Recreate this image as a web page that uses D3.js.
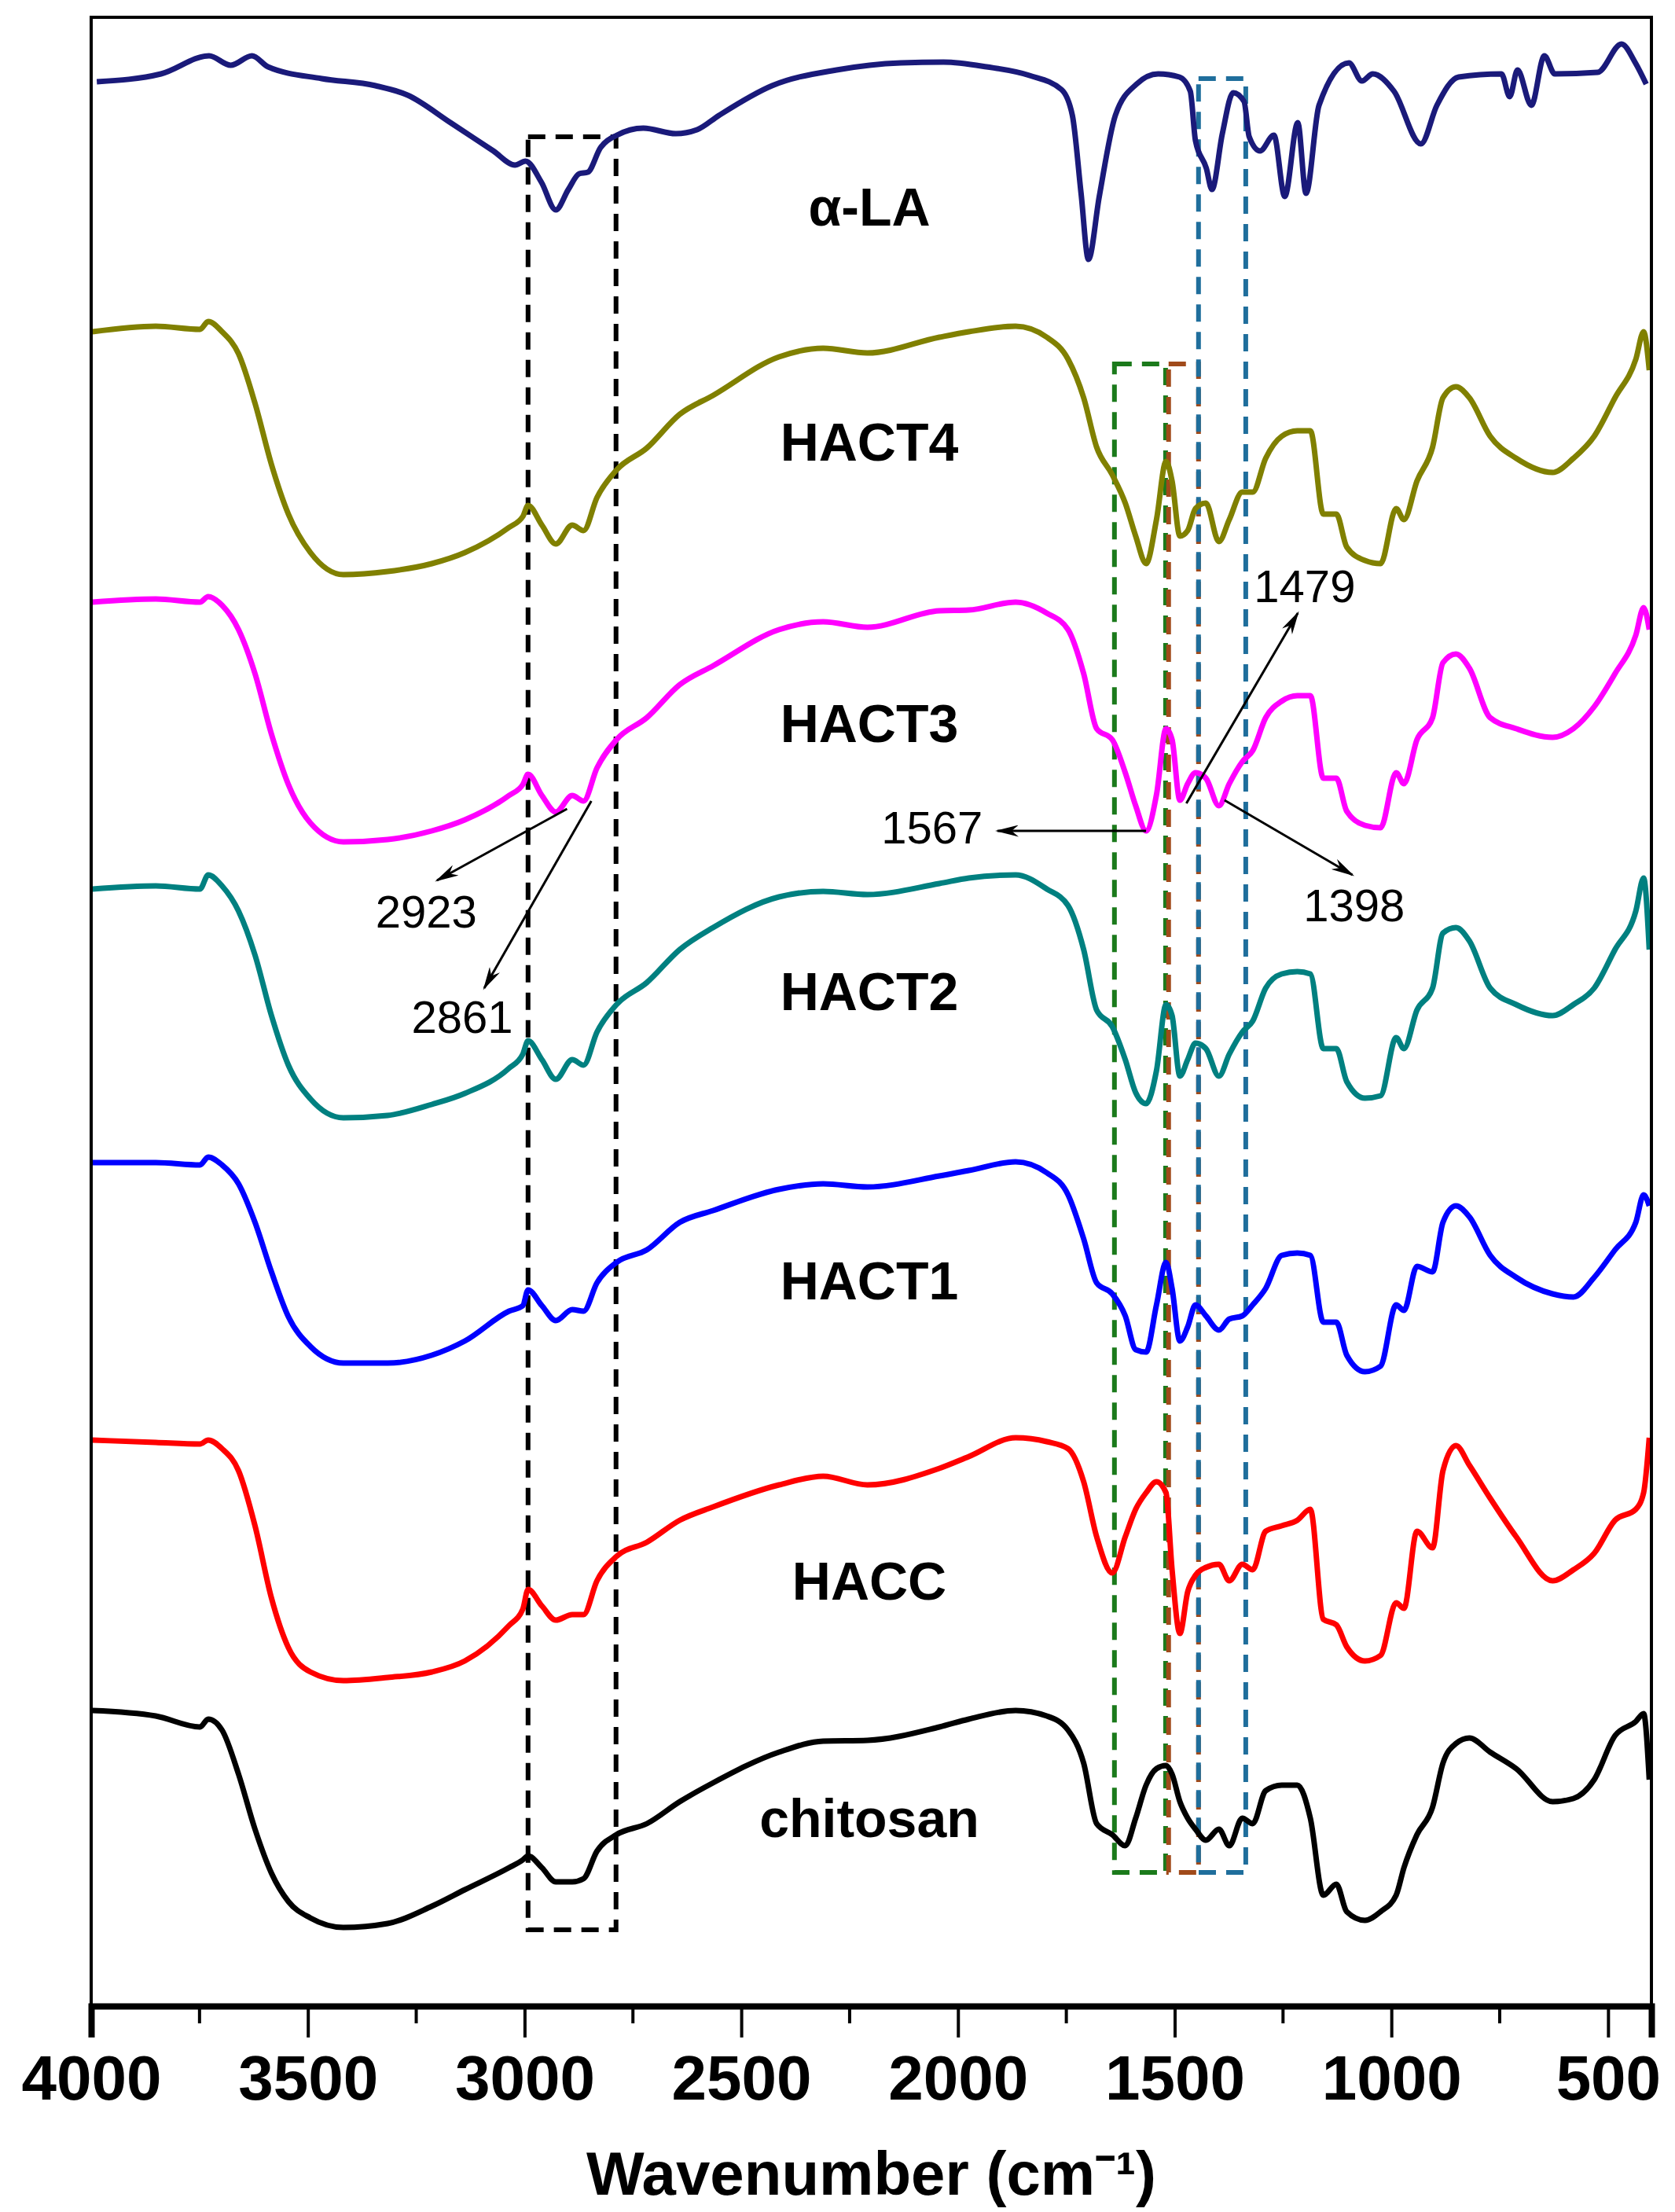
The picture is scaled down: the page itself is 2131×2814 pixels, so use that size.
<!DOCTYPE html>
<html><head><meta charset="utf-8">
<script src="https://cdn.jsdelivr.net/npm/d3@7"></script>
<style>body{margin:0;background:#fff}</style></head>
<body><svg id="c" width="2131" height="2814"></svg>
<script>
const xTicks = [4000,3500,3000,2500,2000,1500,1000,500];
const seriesNames = ["α-LA","HACT4","HACT3","HACT2","HACT1","HACC","chitosan"];
const seriesColors = ["#1a1a7a","#808000","#ff00ff","#008080","#0000ff","#ff0000","#000000"];

const wLA = [3987,3839,3728,3678,3629,3592,3468,3344,3270,3171,3072,3022,2998,2961,2928,2899,2874,2854,2825,2787,2726,2651,2602,2552,2429,2280,2132,2033,1934,1835,1761,1736,1716,1699,1674,1637,1588,1538,1489,1464,1452,1427,1414,1390,1365,1340,1328,1303,1271,1246,1216,1197,1167,1098,1068,1043,994,932,895,845,746,727,709,677,647,623,524,469,437,412];
const vLA = [2448,2458,2481,2469,2481,2467,2452,2443,2431,2396,2360,2342,2347,2320,2285,2311,2331,2333,2364,2380,2389,2382,2387,2405,2443,2463,2472,2473,2467,2456,2438,2405,2306,2222,2302,2405,2445,2458,2454,2436,2373,2338,2311,2382,2434,2423,2378,2360,2380,2302,2396,2306,2418,2472,2449,2458,2436,2369,2418,2454,2458,2429,2463,2418,2481,2458,2460,2496,2472,2445];

const wHigh = [3997,3851,3749,3730,3698,3660,3622,3584,3545,3494,3418,3316,3214,3138,3036,3004,2992,2960,2928,2890,2864,2833,2788,2718,2642,2565,2413,2311,2209,2043];
const wLow = [1975,1867,1795,1746,1710,1680,1644,1614,1590,1566,1542,1520,1506,1488,1470,1452,1428,1398,1374,1344,1320,1290,1253,1217,1187,1157,1127,1103,1061,1025,989,971,941,905,881,851,820,772,712,628,580,532,484,436,418,405];

const vHACT4 = [2130,2137,2133,2143,2130,2102,2039,1961,1898,1849,1821,1825,1835,1849,1881,1895,1909,1884,1860,1884,1877,1919,1954,1982,2025,2049,2098,2109,2103,2123,
 2130,2137,2123,2095,2046,1983,1948,1912,1870,1835,1891,1965,1940,1870,1877,1905,1912,1863,1891,1926,1926,1969,1997,2004,2004,1898,1898,1856,1839,1835,1905,1891,1940,1983,2046,2060,2046,1997,1969,1951,1969,1997,2046,2095,2130,2081];
const vHACT3 = [1786,1790,1786,1793,1782,1751,1695,1618,1554,1505,1481,1484,1495,1509,1540,1554,1567,1540,1519,1540,1533,1575,1611,1639,1681,1705,1751,1761,1754,1775,
 1776,1786,1772,1751,1695,1625,1611,1569,1527,1495,1541,1625,1611,1534,1555,1569,1562,1527,1555,1583,1597,1639,1660,1667,1667,1562,1562,1520,1502,1499,1569,1555,1611,1639,1709,1720,1702,1639,1625,1614,1625,1653,1695,1744,1779,1751];
const vHACT2 = [1421,1425,1421,1439,1425,1393,1337,1260,1197,1154,1130,1133,1147,1161,1193,1211,1228,1204,1179,1204,1197,1239,1274,1302,1344,1372,1411,1418,1414,1428,
 1435,1439,1421,1400,1344,1267,1246,1204,1162,1148,1190,1274,1260,1183,1204,1225,1218,1183,1211,1239,1253,1295,1313,1316,1313,1218,1218,1176,1155,1158,1232,1218,1267,1295,1365,1372,1355,1295,1274,1260,1274,1295,1344,1393,1435,1344];
const vHACT1 = [1073,1073,1070,1080,1070,1046,997,934,877,839,818,818,828,846,884,891,911,891,872,886,884,920,946,962,997,1012,1039,1046,1042,1056,
 1063,1074,1060,1032,976,920,906,878,835,832,892,946,913,846,864,892,878,860,874,878,892,913,955,958,955,870,870,828,807,814,892,885,941,934,997,1018,1004,955,927,906,902,927,962,997,1032,1018];
const vHACC = [720,717,715,720,709,681,611,519,456,425,414,418,425,439,484,505,530,509,491,498,498,541,572,590,618,635,663,674,663,684,
 699,723,718,709,667,597,551,597,632,653,667,653,555,474,527,548,558,562,541,562,555,604,611,618,632,492,485,457,439,446,513,506,604,583,681,713,688,646,597,541,555,576,618,632,653,723];
const vChitosan = [376,369,355,365,351,295,225,169,133,112,100,105,127,148,176,186,191,176,158,158,162,197,218,232,260,284,323,337,338,355,
 365,376,369,351,309,232,218,204,239,281,302,306,295,260,239,225,211,225,204,239,232,274,281,281,239,141,155,120,109,120,141,176,218,253,309,334,341,323,302,260,264,288,344,362,372,288];

const boxes = [
  {w0:2992,w1:2789,v0:2378,v1:97,color:"#000000"},
  {w0:1639,w1:1521,v0:2089,v1:170,color:"#1b7a1b"},
  {w0:1514,w1:1445,v0:2089,v1:170,color:"#a04a1a"},
  {w0:1445,w1:1336,v0:2452,v1:170,color:"#1f6e9c"}
];
const labels = [
  {t:"α-LA",v:2289},{t:"HACT4",v:1990},{t:"HACT3",v:1632},{t:"HACT2",v:1291},{t:"HACT1",v:923},{t:"HACC",v:541},{t:"chitosan",v:239}
];
const notes = [
  {t:"2923",tw:3227,tv:1392,fw:2902,fv:1523,aw:3202,av:1432},
  {t:"2861",tw:3144,tv:1258,fw:2846,fv:1533,aw:3093,av:1295},
  {t:"1479",tw:1200,tv:1806,fw:1473,fv:1530,aw:1216,av:1772},
  {t:"1567",tw:2060,tv:1499,fw:1566,fv:1495,aw:1909,av:1495},
  {t:"1398",tw:1086,tv:1400,fw:1385,fv:1534,aw:1090,av:1439}
];

const L=116,R=2101,T=22,B=2552;
const svg=d3.select("#c");
const x=d3.scaleLinear().domain([4000,400]).range([L,R]);
const y=d3.scaleLinear().domain([0,2530]).range([B,T]);

svg.append("defs").append("marker").attr("id","ar").attr("viewBox","0 0 20 10").attr("refX",18).attr("refY",5)
 .attr("markerWidth",30).attr("markerHeight",15).attr("markerUnits","userSpaceOnUse").attr("orient","auto")
 .append("path").attr("d","M0,0 L20,5 L0,10 L6,5 Z").attr("fill","#000");

const line=d3.line().x(d=>x(d[0])).y(d=>y(d[1])).curve(d3.curveMonotoneX);
const wFull = wHigh.concat(wLow);
const data=[d3.zip(wLA,vLA),d3.zip(wFull,vHACT4),d3.zip(wFull,vHACT3),d3.zip(wFull,vHACT2),d3.zip(wFull,vHACT1),d3.zip(wFull,vHACC),d3.zip(wFull,vChitosan)];

boxes.forEach(b=>{
  svg.append("rect").attr("x",x(b.w0)).attr("y",y(b.v0)).attr("width",x(b.w1)-x(b.w0)).attr("height",y(b.v1)-y(b.v0))
   .attr("fill","none").attr("stroke",b.color).attr("stroke-width",6).attr("stroke-dasharray","22,13");
});
data.forEach((d,i)=>{
  svg.append("path").datum(d).attr("d",line).attr("fill","none").attr("stroke",seriesColors[i])
   .attr("stroke-width",7).attr("stroke-linejoin","round");
});
labels.forEach(l=>{
  svg.append("text").attr("x",1106).attr("y",y(l.v)).attr("dy","0.35em").attr("text-anchor","middle")
   .attr("font-family","Liberation Sans, Arial, sans-serif").attr("font-weight","bold").attr("font-size",68).text(l.t);
});
notes.forEach(n=>{
  svg.append("line").attr("x1",x(n.fw)).attr("y1",y(n.fv)).attr("x2",x(n.aw)).attr("y2",y(n.av))
   .attr("stroke","#000").attr("stroke-width",3).attr("marker-end","url(#ar)");
  svg.append("text").attr("x",x(n.tw)).attr("y",y(n.tv)).attr("dy","0.35em").attr("text-anchor","middle")
   .attr("font-family","Liberation Sans, Arial, sans-serif").attr("font-size",58).text(n.t);
});

svg.append("rect").attr("x",L).attr("y",T).attr("width",R-L).attr("height",B-T).attr("fill","none").attr("stroke","#000").attr("stroke-width",4);
const ax=svg.append("g").attr("transform",`translate(0,${B})`)
 .call(d3.axisBottom(x).tickValues(xTicks).tickSize(40).tickPadding(22).tickFormat(d3.format("d")));
ax.select(".domain").attr("stroke-width",8);
ax.selectAll(".tick line").attr("stroke-width",4);
ax.selectAll("text").attr("font-family","Liberation Sans, Arial, sans-serif").attr("font-weight","bold").attr("font-size",80).attr("fill","#000");
const minor=d3.range(3750,400,-500);
svg.append("g").attr("transform",`translate(0,${B})`).selectAll("line").data(minor).join("line")
 .attr("x1",d=>x(d)).attr("x2",d=>x(d)).attr("y1",0).attr("y2",22).attr("stroke","#000").attr("stroke-width",4);
svg.append("text").attr("x",(L+R)/2).attr("y",2792).attr("text-anchor","middle")
 .attr("font-family","Liberation Sans, Arial, sans-serif").attr("font-weight","bold").attr("font-size",78)
 .text("Wavenumber (cm⁻¹)");
</script></body></html>
